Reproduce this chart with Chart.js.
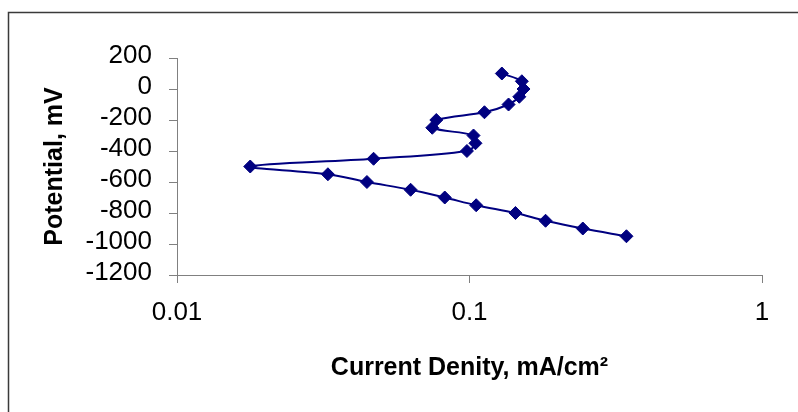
<!DOCTYPE html>
<html>
<head>
<meta charset="utf-8">
<script src="https://cdn.jsdelivr.net/npm/chart.js@4/dist/chart.umd.min.js"></script>
<style>
  html, body { margin: 0; padding: 0; background: #ffffff; }
  #wrap { width: 798px; height: 412px; position: relative; }
</style>
</head>
<body>
<div id="wrap"><canvas id="c" width="798" height="412"></canvas></div>
<script>
// Data
const currentDensity = [0.129, 0.151, 0.153, 0.148, 0.136, 0.1125, 0.077, 0.0746, 0.1032, 0.1048, 0.098, 0.047, 0.0178, 0.0328, 0.0446, 0.0629, 0.0823, 0.1054, 0.1436, 0.182, 0.244, 0.344];
const potential = [100, 50, 0, -50, -100, -150, -200, -250, -300, -350, -400, -450, -500, -550, -600, -650, -700, -750, -800, -850, -900, -950];
const xTickValues = [0.01, 0.1, 1];
const yMin = -1200, yMax = 200, yStep = 200;
const xTitle = 'Current Denity, mA/cm\u00B2';
const yTitle = 'Potential, mV';

const points = currentDensity.map((x, i) => ({ x: x, y: potential[i] }));

const frame = {
  id: 'frame',
  beforeDraw(chart) {
    const ctx = chart.ctx;
    ctx.save();
    ctx.fillStyle = '#ffffff';
    ctx.fillRect(0, 0, chart.width, chart.height);
    ctx.strokeStyle = '#3a3a3a';
    ctx.lineWidth = 1.5;
    ctx.strokeRect(8.5, 12.5, 820, 430);
    ctx.restore();
  }
};

const axisColor = '#808080';
const tickFont = { family: '"Liberation Sans", Arial, sans-serif', size: 26 };
const titleFont = { family: '"Liberation Sans", Arial, sans-serif', size: 25, weight: 'bold' };

new Chart(document.getElementById('c'), {
  type: 'scatter',
  data: {
    datasets: [{
      data: points,
      showLine: true,
      tension: 0.35,
      borderColor: '#000080',
      borderWidth: 2,
      backgroundColor: '#000080',
      pointStyle: 'rectRot',
      pointRadius: 6.5,
      pointBorderWidth: 1,
      pointBorderColor: '#000080',
      pointBackgroundColor: '#000080'
    }]
  },
  options: {
    responsive: false,
    animation: false,
    layout: { padding: { left: 0, right: 36, top: 58, bottom: 0 } },
    plugins: { legend: { display: false }, tooltip: { enabled: false } },
    scales: {
      x: {
        type: 'logarithmic',
        min: 0.01,
        max: 1,
        afterBuildTicks(scale) { scale.ticks = xTickValues.map(v => ({ value: v, major: true })); },
        afterFit(scale) { scale.height = 137; },
        ticks: {
          color: '#000',
          font: tickFont,
          padding: 14,
          maxRotation: 0,
          autoSkip: false,
          callback: (v) => String(v)
        },
        grid: { drawOnChartArea: false, drawTicks: true, tickLength: 8, color: axisColor },
        border: { display: true, color: axisColor, width: 1 },
        title: { display: true, text: xTitle, color: '#000', font: titleFont, padding: { top: 0, bottom: 29 } }
      },
      y: {
        min: yMin,
        max: yMax,
        afterFit(scale) { scale.width = 177; },
        ticks: {
          stepSize: yStep,
          color: '#000',
          font: tickFont,
          padding: 17,
          autoSkip: false,
          labelOffset: -2,
          callback: (v) => String(v)
        },
        grid: { drawOnChartArea: false, drawTicks: true, tickLength: 8, color: axisColor },
        border: { display: true, color: axisColor, width: 1 },
        title: { display: true, text: yTitle, color: '#000', font: titleFont, padding: { top: 40, bottom: 0 } }
      }
    }
  },
  plugins: [frame]
});
</script>
</body>
</html>
